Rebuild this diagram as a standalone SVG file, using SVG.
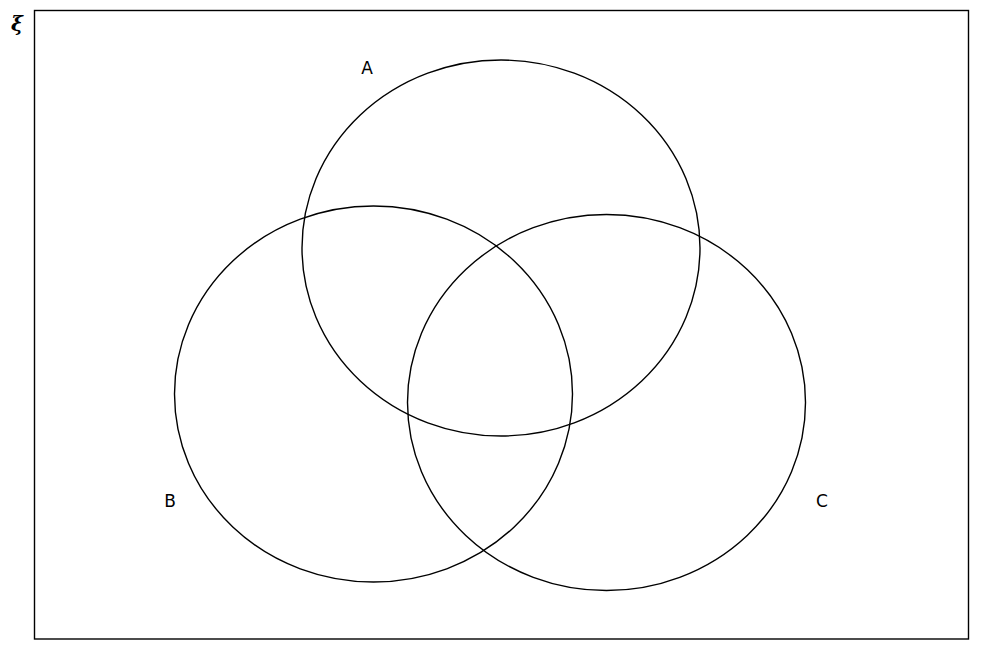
<svg xmlns="http://www.w3.org/2000/svg" width="981" height="652" viewBox="0 0 981 652">
<style>
.set{fill:none;stroke:#000;stroke-width:1.4}
.lbl{font-family:"DejaVu Sans",sans-serif;font-size:17px;fill:#000;text-anchor:middle}
</style>
<rect width="981" height="652" fill="#fff"/>
<g id="universe">
<rect x="34.5" y="10.5" width="934" height="628.5" fill="none" stroke="#000" stroke-width="1.4"/>
<text x="17" y="31" font-family="'DejaVu Serif',serif" font-style="italic" font-weight="bold" font-size="20" text-anchor="middle">ξ</text>
</g>
<g id="A">
<ellipse class="set" cx="501" cy="248" rx="199" ry="188"/>
<text class="lbl" x="367" y="74">A</text>
</g>
<g id="B">
<ellipse class="set" cx="373.5" cy="394" rx="199" ry="188"/>
<text class="lbl" x="170" y="507">B</text>
</g>
<g id="C">
<ellipse class="set" cx="606.5" cy="402.5" rx="199" ry="188"/>
<text class="lbl" x="822" y="507">C</text>
</g>
<g id="connectors"/>
</svg>
